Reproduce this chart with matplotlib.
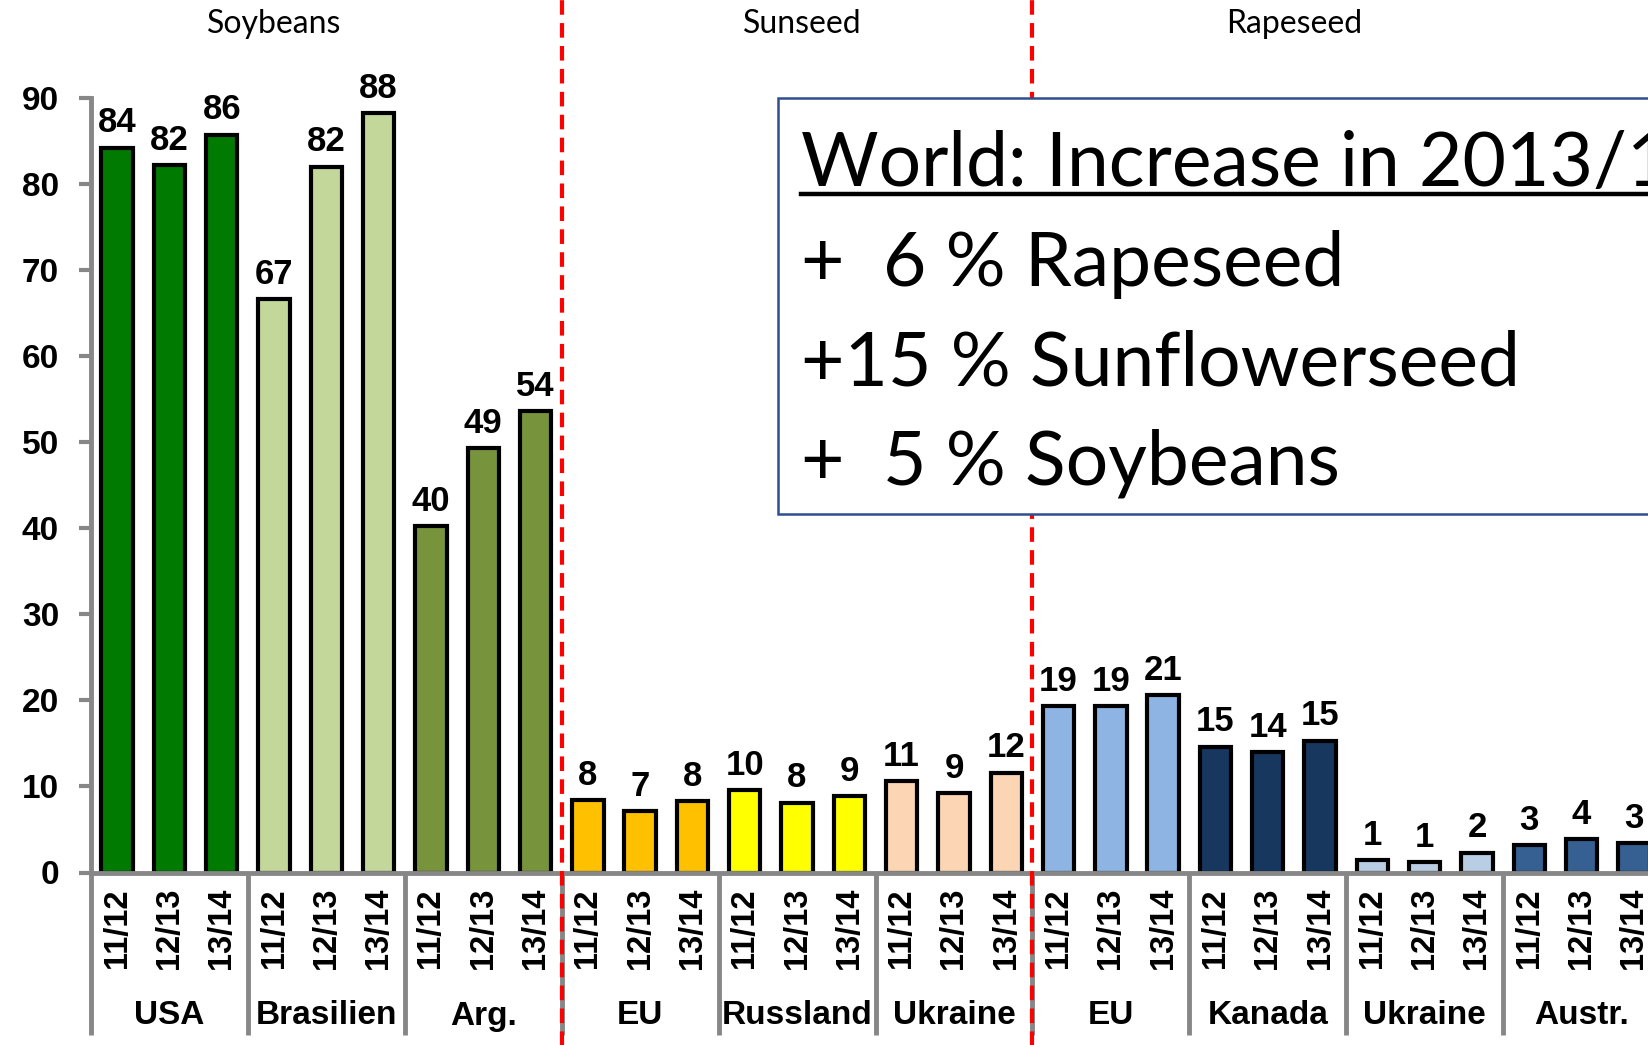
import matplotlib
matplotlib.use("Agg")
import matplotlib.pyplot as plt
from matplotlib.patches import Rectangle
from matplotlib.transforms import blended_transform_factory

# ---------------- data ----------------
years = ["11/12", "12/13", "13/14"]
countries = ["USA", "Brasilien", "Arg.", "EU", "Russland", "Ukraine",
             "EU", "Kanada", "Ukraine", "Austr."]
crops = ["Soybeans", "Sunseed", "Rapeseed"]

usa = [84.2, 82.2, 85.7]
brasilien = [66.6, 82.0, 88.2]
argentinien = [40.2, 49.3, 53.6]
eu_sun = [8.4, 7.1, 8.3]
russland = [9.6, 8.1, 8.9]
ukraine_sun = [10.6, 9.2, 11.6]
eu_rape = [19.3, 19.3, 20.6]
kanada = [14.6, 14.0, 15.3]
ukraine_rape = [1.4, 1.2, 2.3]
australien = [3.2, 3.9, 3.4]

series = [usa, brasilien, argentinien, eu_sun, russland, ukraine_sun,
          eu_rape, kanada, ukraine_rape, australien]
colors = ["#007A00", "#C4D79B", "#77933C", "#FFC000", "#FFFF00", "#FCD5B5",
          "#8EB4E3", "#17375E", "#B9CDE5", "#366092"]

box_lines = ["World: Increase in 2013/14",
             "+  6 % Rapeseed",
             "+15 % Sunflowerseed",
             "+  5 % Soybeans"]

# ---------------- figure ----------------
W, H = 1648, 1045
fig = plt.figure(figsize=(W / 100, H / 100), dpi=100)
ax_left = 91 / W
ax_bottom = (H - 872.5) / H
ax_top = (H - 97.7) / H
ax_width = 1569 / W
ax = fig.add_axes([ax_left, ax_bottom, ax_width, ax_top - ax_bottom])

bold = dict(family="Liberation Sans", weight="bold", color="black")
calib = ["Lato", "DejaVu Sans"]
gray = "#878787"

values = [v for s in series for v in s]
bar_colors = [c for c, s in zip(colors, series) for _ in s]
xs = list(range(len(values)))
ax.bar(xs, values, width=0.6, color=bar_colors, edgecolor="black",
       linewidth=3.0, zorder=3)
for x, v in zip(xs, values):
    ax.annotate(f"{v:.0f}", (x, v), xytext=(0, 6), textcoords="offset points",
                ha="center", va="bottom", fontsize=25, **bold)

ax.set_xlim(-0.5, len(values) - 0.5)
ax.set_ylim(0, 90)
ax.set_yticks(range(0, 91, 10))
ax.tick_params(axis="y", direction="out", length=9, width=3, color=gray,
               pad=14)
for lab in ax.get_yticklabels():
    lab.set_fontfamily("Liberation Sans")
    lab.set_fontweight("bold")
    lab.set_fontsize(24)
ax.set_xticks([])
for s in ["top", "right"]:
    ax.spines[s].set_visible(False)
for s in ["left", "bottom"]:
    ax.spines[s].set_color(gray)
    ax.spines[s].set_linewidth(3.5)
ax.spines["bottom"].set_zorder(4)

trans = blended_transform_factory(ax.transData, ax.transAxes)
ax_h_px = 872.5 - 97.7
bottom_y = -(1035 - 872.5) / ax_h_px

# year labels and country labels
for x, lab in zip(xs, [y for _ in series for y in years]):
    ax.text(x, -(888 - 872.5) / ax_h_px, lab, rotation=90, ha="center",
            va="top", fontsize=23.5, transform=trans, **bold)
for i, c in enumerate(countries):
    ax.text(3 * i + 1, -(1016 - 872.5) / ax_h_px, c, ha="center",
            va="center", fontsize=24, transform=trans, **bold)

# group separators
for i in range(len(countries)):
    xb = 3 * i - 0.5
    ax.plot([xb, xb], [0, bottom_y], color=gray, lw=3.5, transform=trans,
            clip_on=False, zorder=2, solid_capstyle="butt")

# red dashed crop separators
for xb in [8.5, 17.5]:
    ax.plot([xb, xb], [bottom_y - 0.02, 1.13], color="#FF0000", lw=3.0,
            ls=(0, (3.5, 2.0)), transform=trans, clip_on=False, zorder=5)

# crop titles
for c, xc in zip(crops, [3.0, 13.1, 22.5]):
    ax.text(xc, (H - 24) / H, c, ha="center", va="center", fontsize=23,
            family=calib, transform=blended_transform_factory(ax.transData, fig.transFigure))

# text box
bx0, by0, by1 = 778 / W, (H - 514) / H, (H - 97.7) / H
fig.patches.append(Rectangle((bx0, by0), 1.2 - bx0, by1 - by0,
                             transform=fig.transFigure, facecolor="white",
                             edgecolor="#2F4F8F", lw=1.8, zorder=10))
tx = 801 / W
baselines = [186, 286, 385, 485]
for k, (txt, b) in enumerate(zip(box_lines, baselines)):
    fig.text(tx, (H - b) / H, txt, ha="left", va="baseline", fontsize=54,
             family=calib, zorder=11)
fig.add_artist(plt.Line2D([tx, 1.1], [(H - 194) / H, (H - 194) / H],
                          transform=fig.transFigure, color="black", lw=3.2,
                          zorder=11))

fig.savefig("out.png", dpi=100)
